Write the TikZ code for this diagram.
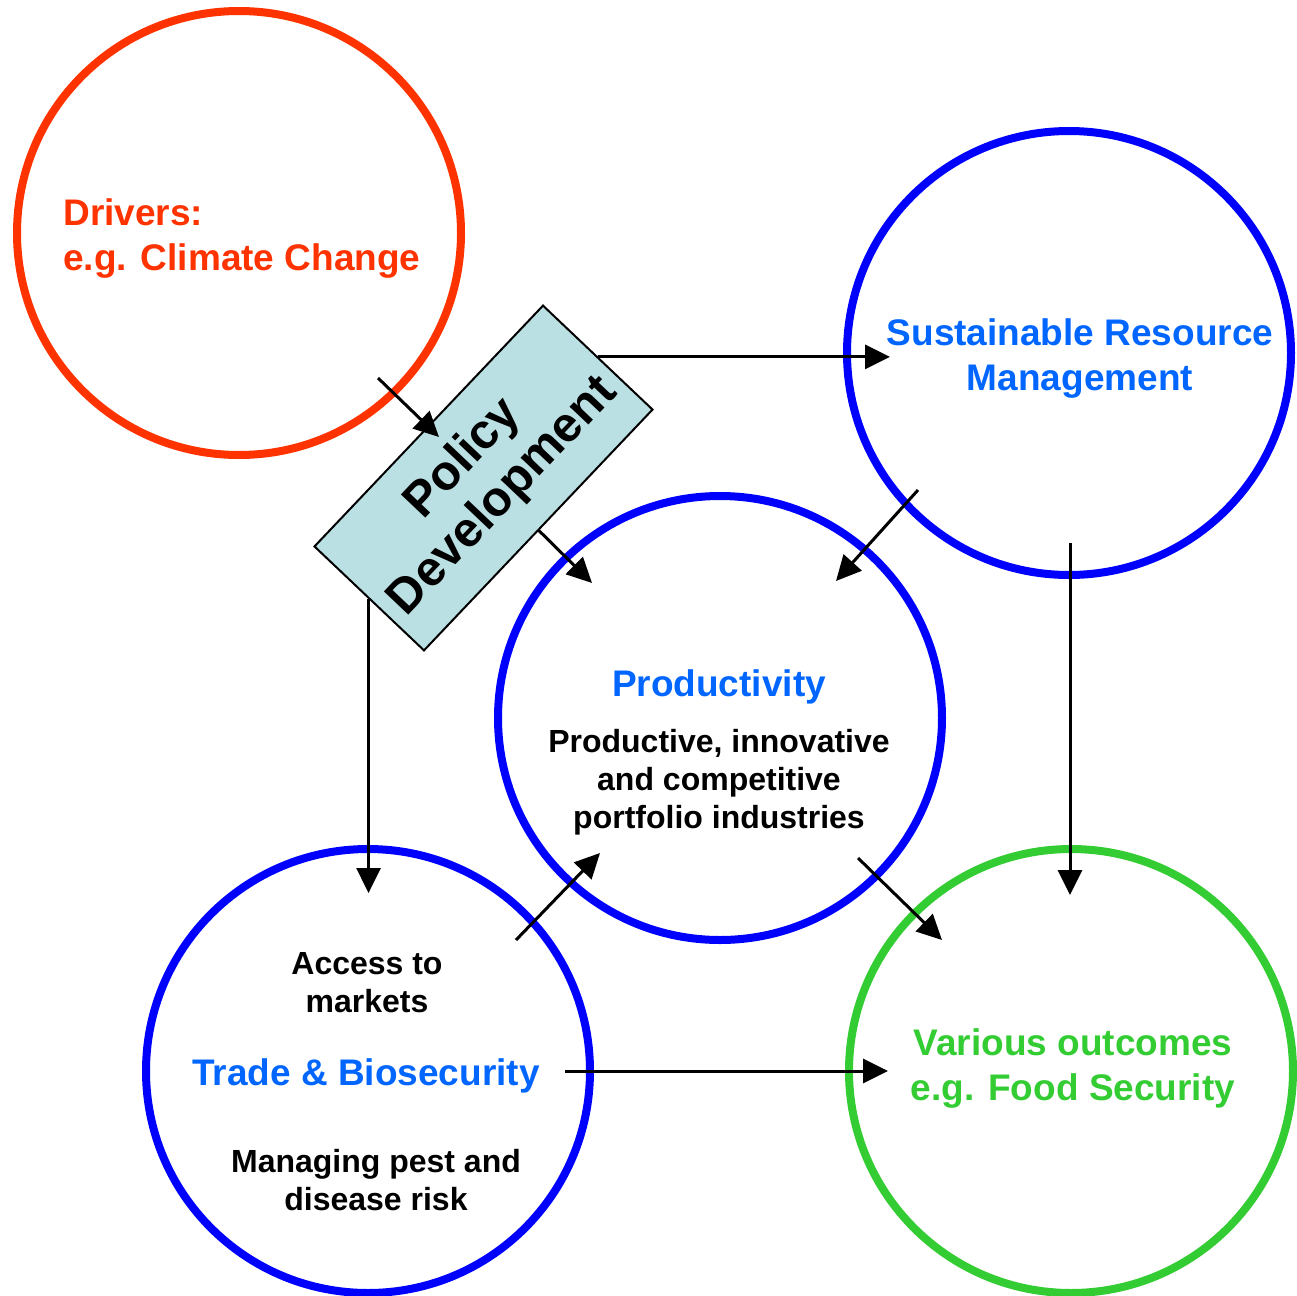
\documentclass[tikz,border=0pt]{standalone}
\usepackage{fontspec}
\setmainfont{Liberation Sans}
\usetikzlibrary{arrows.meta}
\definecolor{drvred}{HTML}{FF3300}
\definecolor{ringblue}{HTML}{0000FF}
\definecolor{txtblue}{HTML}{0066FF}
\definecolor{outgreen}{HTML}{33CC33}
\definecolor{boxfill}{HTML}{BBE0E3}
\begin{document}
\begin{tikzpicture}[x=0.5pt, y=-0.5pt,
  ring/.style={circle, draw, line width=4pt, minimum size=222pt, inner sep=0pt},
  flow/.style={-{Triangle[length=12.5pt,width=12pt]}, line width=1.5pt},
  big/.style={font=\fontsize{18.5}{22.5}\selectfont\bfseries, align=center, inner sep=0pt},
  small/.style={font=\fontsize{16}{19}\selectfont\bfseries, align=center, inner sep=0pt}]
\useasboundingbox (0,0) rectangle (1297,1296);
% circles
\node[ring, drvred] (drv) at (239,233){};
\node[ring, ringblue] (srm) at (1069,353){};
\node[ring, ringblue] (prd) at (720,718){};
\node[ring, ringblue] (trd) at (368,1071){};
\node[ring, outgreen] (out) at (1071,1071){};
% policy box
\node[draw, fill=boxfill, line width=1pt, rotate=46.5, minimum width=166pt, minimum height=75.5pt,
  inner sep=0pt, align=center, font=\fontsize{24.5}{27.5}\selectfont\bfseries] (pol) at (483.5,478){Policy\\Development};
% labels
\node[big, drvred, align=left, anchor=west] (drvtxt) at (63,239){Drivers:\\e.g. Climate Change};
\node[big, txtblue] (srmtxt) at (1080,359){Sustainable Resource\\Management};
\node[big, txtblue] (prdtxt) at (719,687){Productivity};
\node[small] (prdsub) at (719,782){Productive, innovative\\and competitive\\portfolio industries};
\node[small] (acc) at (367,983){Access to\\markets};
\node[big, txtblue] (trdtxt) at (366,1076){Trade \& Biosecurity};
\node[small] (pest) at (376,1180){Managing pest and\\disease risk};
\node[big, outgreen] (outtxt) at (1073,1069){Various outcomes\\e.g. Food Security};
% arrow ends
\coordinate (drvend) at (378,378);
\coordinate (polin) at (439,437);
\coordinate (srmin) at (pol.east -| 890,0);
\coordinate (prdin1) at (592,583);
\coordinate (srmout) at (918,490);
\coordinate (prdin2) at (836,581);
\coordinate (srmdown) at (1070,543);
\coordinate (outin1) at (1070,895);
\coordinate (trdin) at (pol.west |- 0,893);
\coordinate (trdout1) at (516,940);
\coordinate (prdin3) at (600,853);
\coordinate (prdout) at (858,858);
\coordinate (outin2) at (942,940);
\coordinate (trdout2) at (565,1071);
\coordinate (outin3) at (888,1071);
% arrows
\draw[flow] (drvend) -- (polin);
\draw[flow] (pol.east) -- (srmin);
\draw[flow] (pol.south) -- (prdin1);
\draw[flow] (srmout) -- (prdin2);
\draw[flow] (srmdown) -- (outin1);
\draw[flow] (pol.west) -- (trdin);
\draw[flow] (trdout1) -- (prdin3);
\draw[flow] (prdout) -- (outin2);
\draw[flow] (trdout2) -- (outin3);
\end{tikzpicture}
\end{document}
